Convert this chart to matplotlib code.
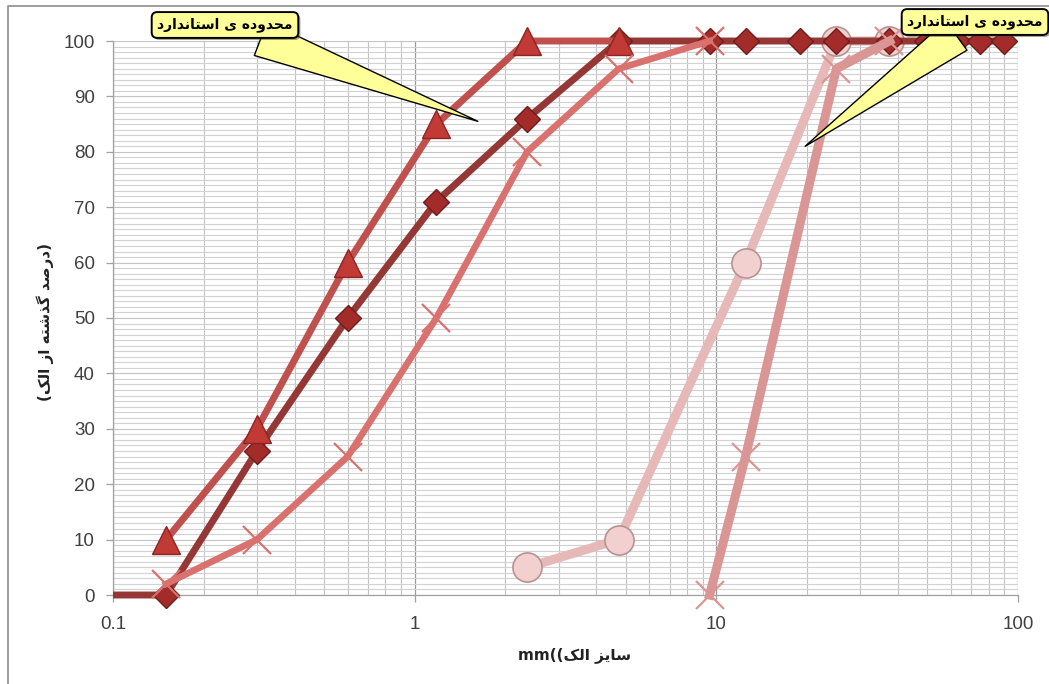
import matplotlib
matplotlib.use("Agg")
import matplotlib.pyplot as plt
from matplotlib.lines import Line2D
from matplotlib.transforms import Bbox, TransformedBbox
from matplotlib.ticker import FixedLocator, NullFormatter
import matplotlib.patheffects as pe

# ---------------- data ----------------
upper_x = [0.15, 0.3, 0.6, 1.18, 2.36, 4.75]
upper_y = [10, 30, 60, 85, 100, 100]

sample_x = [0.075, 0.15, 0.3, 0.6, 1.18, 2.36, 4.75, 9.5, 12.5, 19, 25, 37.5, 50, 63, 75, 90]
sample_y = [0, 0, 26, 50, 71, 86, 100, 100, 100, 100, 100, 100, 100, 100, 100, 100]

lower_x = [0.15, 0.3, 0.6, 1.18, 2.36, 4.75, 9.5]
lower_y = [2, 10, 25, 50, 80, 95, 100]

coarse_up_x = [2.36, 4.75, 12.5, 25, 37.5]
coarse_up_y = [5, 10, 60, 100, 100]

coarse_lo_x = [9.5, 12.5, 25, 37.5]
coarse_lo_y = [0, 25, 95, 100]

x_ticks = [0.1, 1, 10, 100]
x_tick_labels = ["0.1", "1", "10", "100"]
y_ticks = list(range(0, 101, 10))

callout_text = "محدوده ی استاندارد"
xlabel_text = "سایز الک"
ylabel_text = "(درصد گذشته از الک)"

# ------------- simple Arabic/Persian shaping -------------
FORMS = {
    'ا': ('\uFE8D', '\uFE8E', '\uFE8D', '\uFE8E'),
    'ت': ('\uFE95', '\uFE96', '\uFE97', '\uFE98'),
    'ح': ('\uFEA1', '\uFEA2', '\uFEA3', '\uFEA4'),
    'د': ('\uFEA9', '\uFEAA', '\uFEA9', '\uFEAA'),
    'ذ': ('\uFEAB', '\uFEAC', '\uFEAB', '\uFEAC'),
    'ر': ('\uFEAD', '\uFEAE', '\uFEAD', '\uFEAE'),
    'ز': ('\uFEAF', '\uFEB0', '\uFEAF', '\uFEB0'),
    'س': ('\uFEB1', '\uFEB2', '\uFEB3', '\uFEB4'),
    'ش': ('\uFEB5', '\uFEB6', '\uFEB7', '\uFEB8'),
    'ص': ('\uFEB9', '\uFEBA', '\uFEBB', '\uFEBC'),
    'ل': ('\uFEDD', '\uFEDE', '\uFEDF', '\uFEE0'),
    'م': ('\uFEE1', '\uFEE2', '\uFEE3', '\uFEE4'),
    'ن': ('\uFEE5', '\uFEE6', '\uFEE7', '\uFEE8'),
    'ه': ('\uFEE9', '\uFEEA', '\uFEEB', '\uFEEC'),
    'و': ('\uFEED', '\uFEEE', '\uFEED', '\uFEEE'),
    'ی': ('\uFBFC', '\uFBFD', '\uFBFE', '\uFBFF'),
    'ک': ('\uFB8E', '\uFB8F', '\uFB90', '\uFB91'),
    'گ': ('\uFB92', '\uFB93', '\uFB94', '\uFB95'),
}
RIGHT_ONLY = set('اآدذرزژو')
MIRROR = {'(': ')', ')': '('}


def shape_visual(s):
    out = []
    for i, c in enumerate(s):
        if c not in FORMS:
            out.append(c)
            continue
        prev = s[i - 1] if i > 0 else None
        nxt = s[i + 1] if i + 1 < len(s) else None
        jp = prev in FORMS and prev not in RIGHT_ONLY if prev else False
        jn = (nxt in FORMS and c not in RIGHT_ONLY) if nxt else False
        f = FORMS[c]
        if jp and jn:
            out.append(f[3])
        elif jp:
            out.append(f[1])
        elif jn:
            out.append(f[2])
        else:
            out.append(f[0])
    vis = ''.join(out)[::-1]
    return ''.join(MIRROR.get(ch, ch) for ch in vis)


# ---------------- figure ----------------
W, H, DPI = 1049, 684, 100
fig = plt.figure(figsize=(W / DPI, H / DPI), dpi=DPI)
fig.patch.set_facecolor("white")
ax = fig.add_axes([113 / W, 1 - 595 / H, (1018 - 113) / W, (595 - 41) / H])
ax.set_xscale("log")
ax.set_xlim(0.1, 100)
ax.set_ylim(0, 100)

# grid
ax.xaxis.set_major_locator(FixedLocator(x_ticks))
ax.xaxis.set_minor_locator(FixedLocator([m * 10 ** e for e in (-1, 0, 1) for m in range(2, 10)]))
ax.xaxis.set_minor_formatter(NullFormatter())
ax.yaxis.set_major_locator(FixedLocator(y_ticks))
ax.yaxis.set_minor_locator(FixedLocator(list(range(0, 101))))
ax.grid(which="major", axis="x", color="#9a9a9a", lw=0.9)
ax.grid(which="minor", axis="x", color="#c4c4c4", lw=0.8)
ax.grid(which="major", axis="y", color="#c4c4c4", lw=0.8)
ax.grid(which="minor", axis="y", color="#d2d2d2", lw=0.8)
ax.set_axisbelow(True)

for s in ("top", "right"):
    ax.spines[s].set_visible(False)
for s in ("left", "bottom"):
    ax.spines[s].set_color("#a0a0a0")
    ax.spines[s].set_linewidth(0.9)

ax.set_xticks(x_ticks)
ax.set_xticklabels(x_tick_labels)
ax.tick_params(which="major", axis="both", length=5, width=0.9, color="#a0a0a0",
               labelsize=13.5, labelcolor="#404040")
ax.tick_params(which="major", axis="x", pad=10)
ax.tick_params(which="major", axis="y", pad=8)
ax.tick_params(which="minor", length=0)
for lab in ax.get_xticklabels() + ax.get_yticklabels():
    lab.set_fontfamily("Liberation Sans")

clip = TransformedBbox(Bbox([[0, -0.1], [1, 1.1]]), ax.transAxes)


def series(x, y, color, lw, marker, ms, mfc, mec, mew, z):
    line, = ax.plot(x, y, color=color, lw=lw, solid_joinstyle="round", zorder=z)
    line.set_clip_box(clip)
    pts, = ax.plot(x, y, ls="none", marker=marker, ms=ms, mfc=mfc, mec=mec, mew=mew,
                   zorder=z + 0.5)
    pts.set_clip_box(clip)
    return pts


series(coarse_up_x, coarse_up_y, "#e6b9b8", 6.5, "o", 21, "#f2d0d0", "#b89292", 1.2, 3)
series(sample_x, sample_y, "#953735", 5.0, "D", 13.5, "#a32b29", "#6e1d1c", 1.0, 4)
series(upper_x, upper_y, "#c0504d", 5.0, "^", 20, "#c23a35", "#8c2522", 1.0, 5)
series(lower_x, lower_y, "#d9726f", 4.8, "x", 20, "#d9726f", "#d9726f", 1.6, 6)
series(coarse_lo_x, coarse_lo_y, "#d99694", 6.5, "x", 20, "#d99694", "#d99694", 1.6, 7)

# axis labels
fig.text(575 / W, 1 - 655 / H, "mm((" + shape_visual(xlabel_text), ha="center", va="center",
         fontsize=11, fontweight="bold", family=["DejaVu Sans"], color="#222222")
fig.text(45 / W, 1 - 322 / H, shape_visual(ylabel_text), ha="center", va="center",
         rotation=90, fontsize=11, fontweight="bold", family=["DejaVu Sans"], color="#222222")

# callouts
bbox_style = dict(boxstyle="round,pad=0.4,rounding_size=0.4", fc="#ffff99", ec="black", lw=1.4)
arrow_style = dict(arrowstyle="wedge,tail_width=2.6,shrink_factor=0.5", fc="#ffff99", ec="black",
                   lw=1.0, shrinkA=0, shrinkB=0)
for txt_xy, tip in (((225, 684 - 25), (1.62, 85.5)), ((975, 684 - 22), (19.7, 81))):
    ann = ax.annotate(shape_visual(callout_text), xy=tip, xycoords="data",
                      xytext=txt_xy, textcoords="figure pixels", ha="center", va="center",
                      fontsize=10, fontweight="bold", family=["DejaVu Sans"],
                      bbox=bbox_style, arrowprops=arrow_style, zorder=10, annotation_clip=False)
    ann.get_bbox_patch().set_path_effects([pe.SimplePatchShadow(offset=(1.5, -1.5), alpha=0.5),
                                           pe.Normal()])

# outer frame
fig.add_artist(Line2D([8 / W, 8 / W, 1.0], [0.0, 1 - 6 / H, 1 - 6 / H],
                      transform=fig.transFigure, color="#8c8c8c", lw=1.2))

fig.savefig("out.png", dpi=DPI)
